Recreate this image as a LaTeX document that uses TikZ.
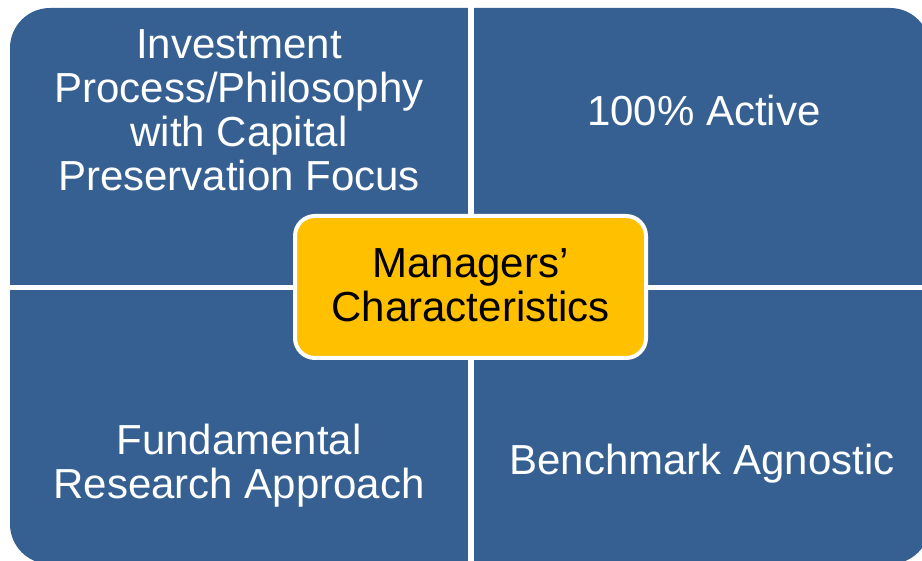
\documentclass[tikz,border=0pt]{standalone}
\usepackage{fontspec}
\setmainfont{Liberation Sans}
\definecolor{quadblue}{HTML}{376092}
\definecolor{centeryellow}{HTML}{FFC000}
\tikzset{
  quadtext/.style={text=white, align=center, inner sep=0pt, font=\fontsize{42}{44}\selectfont},
  centertext/.style={text=black, align=center, inner sep=0pt, font=\fontsize{42}{44}\selectfont},
}
\begin{document}
\begin{tikzpicture}[x=1pt,y=-1pt]
\useasboundingbox (0,0) rectangle (922,561);
\clip (0,0) rectangle (922,561);
% outer rounded block
\fill[quadblue, rounded corners=40pt] (10,8) rectangle (930,564);
% white separating gaps
\fill[white] (468,0) rectangle (474,570);
\fill[white] (0,285) rectangle (930,290);
% center box
\node[draw=white, line width=4pt, fill=centeryellow, rounded corners=20pt,
      minimum width=351pt, minimum height=142pt, inner sep=0pt] (box) at (470.5,287) {};
\node[centertext] (mc) at (470.5,285) {Managers’\\Characteristics};
% quadrant texts
\node[quadtext] (tl) at (239,110) {Investment\\Process/Philosophy\\with Capital\\Preservation Focus};
\node[quadtext] (tr) at (704,110) {100\% Active};
\node[quadtext] (bl) at (239,466) {Fundamental\\Research Approach};
\node[quadtext] (br) at (702,463.5) {Benchmark Agnostic};
\end{tikzpicture}
\end{document}
